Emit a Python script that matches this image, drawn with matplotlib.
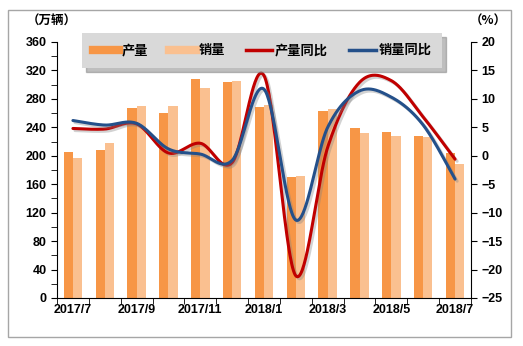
import numpy as np
import matplotlib
matplotlib.use("Agg")
import matplotlib.pyplot as plt
from matplotlib.lines import Line2D
from matplotlib.patches import Rectangle
import matplotlib.patheffects as pe

plt.rcParams['font.family'] = ['Liberation Sans', 'Noto Sans CJK SC', 'DejaVu Sans']
plt.rcParams['font.weight'] = 'bold'

months = ['2017/7', '2017/8', '2017/9', '2017/10', '2017/11', '2017/12', '2018/1',
          '2018/2', '2018/3', '2018/4', '2018/5', '2018/6', '2018/7']
production = [205, 208, 267, 260, 308, 304, 269, 170, 263, 239, 233, 228, 204]
sales = [197, 218, 270, 270, 295, 305, 271, 172, 266, 232, 228, 226, 189]
production_yoy = [4.8, 4.7, 5.6, 0.5, 2.2, -1.2, 14.1, -21.1, 1.5, 12.9, 13.2, 6.8, -0.6]
sales_yoy = [6.2, 5.4, 5.7, 1.2, 0.3, -0.8, 11.7, -11.3, 5.0, 11.4, 10.3, 5.4, -4.1]

C_PROD = '#f79646'
C_SALES = '#fac090'
C_PYOY = '#c00000'
C_SYOY = '#24508a'


def smooth(y, n=40):
    """Bezier smoothing through every point, same control rule as office charts."""
    x = np.arange(len(y), dtype=float)
    y = np.asarray(y, dtype=float)
    px = np.concatenate([[x[0]], x, [x[-1]]])
    py = np.concatenate([[y[0]], y, [y[-1]]])
    xs, ys = [], []
    t = np.linspace(0, 1, n)
    for i in range(len(y) - 1):
        p0 = np.array([px[i + 1], py[i + 1]])
        p3 = np.array([px[i + 2], py[i + 2]])
        p1 = p0 + (np.array([px[i + 2], py[i + 2]]) - np.array([px[i], py[i]])) / 6
        p2 = p3 - (np.array([px[i + 3], py[i + 3]]) - np.array([px[i + 1], py[i + 1]])) / 6
        b = ((1 - t) ** 3)[:, None] * p0 + (3 * (1 - t) ** 2 * t)[:, None] * p1 \
            + (3 * (1 - t) * t ** 2)[:, None] * p2 + (t ** 3)[:, None] * p3
        xs.append(b[:, 0])
        ys.append(b[:, 1])
    return np.concatenate(xs), np.concatenate(ys)


fig = plt.figure(figsize=(5.23, 3.46), dpi=100)
fig.patches.append(Rectangle((8 / 523, 1 - 337 / 346), 503 / 523, 327 / 346,
                             transform=fig.transFigure, fill=False,
                             edgecolor='#a6a6a6', linewidth=1.0))

ax = fig.add_axes([57 / 523, 1 - 298 / 346, 414 / 523, 256 / 346])
x = np.arange(len(months))
w = 0.29
ax.bar(x - w / 2, production, width=w, color=C_PROD, zorder=2)
ax.bar(x + w / 2, sales, width=w, color=C_SALES, zorder=2)
ax.set_xlim(-0.5, len(months) - 0.5)
ax.set_ylim(0, 360)
ax.set_yticks(np.arange(0, 361, 40))
ax.set_yticks(np.arange(0, 361, 20), minor=True)
ax.set_xticks(np.arange(-0.5, len(months), 1), minor=True)
ax.set_xticks(x[::2])
ax.set_xticklabels(months[::2])
ax.tick_params(axis='x', which='major', length=0, labelsize=9, pad=4)
ax.tick_params(axis='x', which='minor', length=4, direction='out')
ax.tick_params(axis='y', which='both', length=4, direction='out', labelsize=9)
for s in ['top', 'right']:
    ax.spines[s].set_visible(False)
for s in ['left', 'bottom']:
    ax.spines[s].set_color('black')

ax2 = ax.twinx()
ax2.set_ylim(-25, 20)
ax2.set_yticks(np.arange(-25, 21, 5))
ax2.tick_params(axis='y', length=4, direction='out', labelsize=9)
for s in ['top', 'left', 'bottom']:
    ax2.spines[s].set_visible(False)

shadow = [pe.SimpleLineShadow(offset=(1.5, -1.5), shadow_color='#808080', alpha=0.35),
          pe.Normal()]
sx, sy = smooth(production_yoy)
ax2.plot(sx, sy, color=C_PYOY, lw=2.2, zorder=3, path_effects=shadow,
         solid_capstyle='round')
sx, sy = smooth(sales_yoy)
ax2.plot(sx, sy, color=C_SYOY, lw=2.2, zorder=4, path_effects=shadow,
         solid_capstyle='round')

for lab in ax.get_xticklabels() + ax.get_yticklabels() + ax2.get_yticklabels():
    lab.set_fontweight('bold')

fig.text(27 / 523, 1 - 21 / 346, '（万辆）', fontsize=9, fontweight='bold',
         ha='left', va='center', family=['Noto Sans CJK SC', 'DejaVu Sans'])
fig.text(507 / 523, 1 - 21 / 346, '（%）', fontsize=9, fontweight='bold',
         ha='right', va='center', family=['Noto Sans CJK SC', 'DejaVu Sans'])

handles = [Line2D([], [], color=C_PROD, lw=6),
           Line2D([], [], color=C_SALES, lw=6),
           Line2D([], [], color=C_PYOY, lw=2.5),
           Line2D([], [], color=C_SYOY, lw=2.5)]
labels = ['产量', '销量', '产量同比', '销量同比']
leg = fig.legend(handles, labels, ncol=4, loc='upper center',
                 bbox_to_anchor=(262 / 523, 1 - 26 / 346),
                 frameon=True, fancybox=False, facecolor='#d9d9d9', edgecolor='none',
                 framealpha=1, shadow={'color': '#7f7f7f', 'alpha': 0.5, 'ox': 3, 'oy': -3},
                 handlelength=2.0, handletextpad=0.2, columnspacing=1.6,
                 borderpad=0.8, prop={'family': ['Noto Sans CJK SC', 'DejaVu Sans'],
                                      'weight': 'bold', 'size': 9.5})
leg.set_zorder(10)

fig.savefig('out.png', dpi=100)
